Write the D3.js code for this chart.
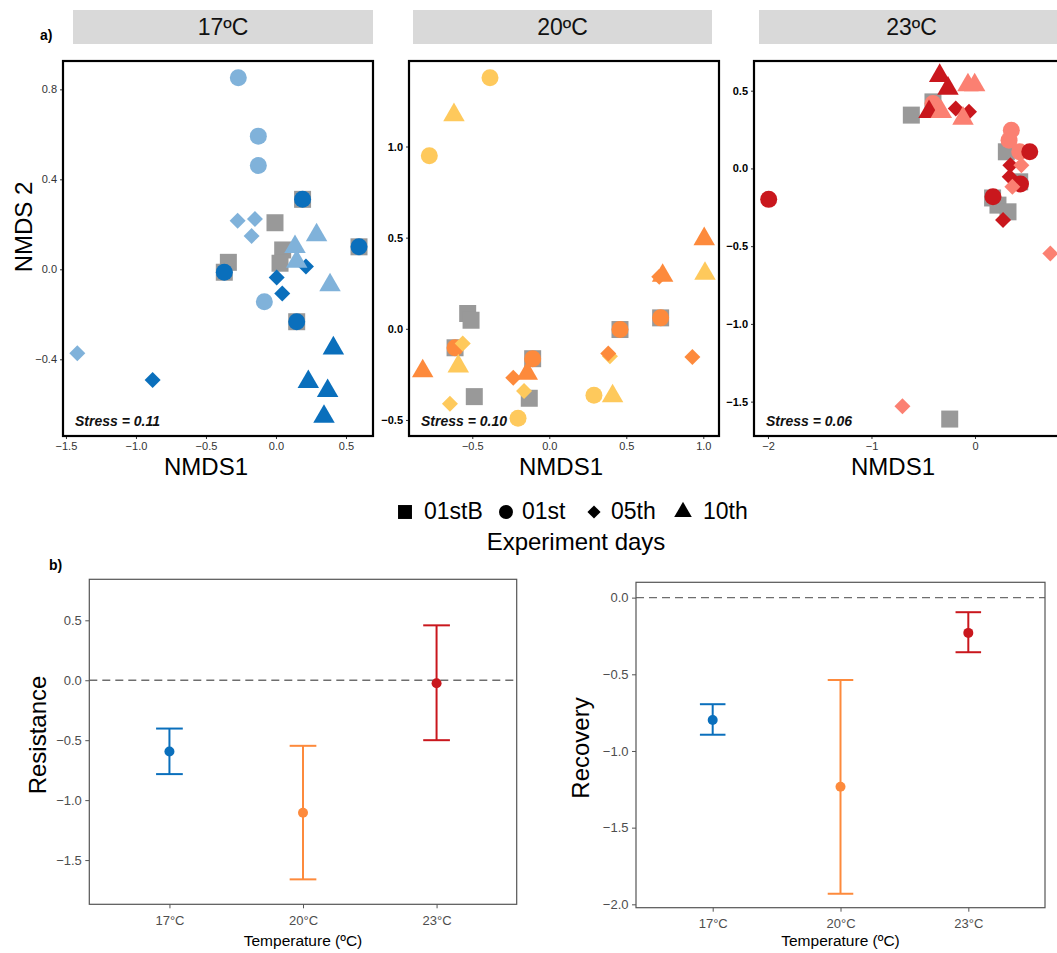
<!DOCTYPE html>
<html><head><meta charset="utf-8">
<script src="https://cdn.jsdelivr.net/npm/d3@7"></script>
<style>
body{margin:0;background:#fff}
svg{display:block}
text{font-family:"Liberation Sans",Arial,Helvetica,sans-serif}
</style>
</head><body>
<svg id="c" width="1057" height="953"></svg>
<script>
// ---------- data ----------
const temperatures = ["17ºC", "20ºC", "23ºC"];
const tempLabels = ["17°C", "20°C", "23°C"];
const days = ["01stB", "01st", "05th", "10th"];
const stressLabels = ["Stress = 0.11", "Stress = 0.10", "Stress = 0.06"];

// NMDS points: [NMDS1, NMDS2, day, group]; group B = baseline (grey), D = dark tone, L = light tone
const nmds17 = [
  [-0.007, 0.207, "01stB", "B"], [0.048, 0.086, "01stB", "B"], [0.029, 0.027, "01stB", "B"],
  [-0.340, 0.031, "01stB", "B"], [-0.369, -0.013, "01stB", "B"], [0.190, 0.311, "01stB", "B"],
  [0.593, 0.100, "01stB", "B"], [0.148, -0.233, "01stB", "B"],
  [-0.269, 0.852, "01st", "L"], [-0.126, 0.592, "01st", "L"], [-0.126, 0.461, "01st", "L"], [-0.083, -0.144, "01st", "L"],
  [-0.274, 0.216, "05th", "L"], [-0.150, 0.224, "05th", "L"], [-0.174, 0.148, "05th", "L"], [-1.419, -0.373, "05th", "L"],
  [0.214, 0.012, "05th", "D"],
  [0.290, 0.152, "10th", "L"], [0.136, 0.100, "10th", "L"], [0.148, 0.034, "10th", "L"], [0.386, -0.070, "10th", "L"],
  [0.190, 0.311, "01st", "D"], [0.593, 0.100, "01st", "D"], [-0.369, -0.013, "01st", "D"], [0.148, -0.233, "01st", "D"],
  [0.005, -0.036, "05th", "D"], [0.045, -0.107, "05th", "D"], [-0.881, -0.492, "05th", "D"],
  [0.410, -0.351, "10th", "D"], [0.231, -0.500, "10th", "D"], [0.369, -0.540, "10th", "D"], [0.343, -0.655, "10th", "D"]
];
const nmds20 = [
  [-0.530, 0.084, "01stB", "B"], [-0.508, 0.047, "01stB", "B"], [0.459, -0.004, "01stB", "B"], [0.723, 0.060, "01stB", "B"],
  [-0.612, -0.104, "01stB", "B"], [-0.108, -0.164, "01stB", "B"], [-0.130, -0.381, "01stB", "B"], [-0.487, -0.372, "01stB", "B"],
  [0.459, -0.004, "01st", "D"], [0.723, 0.060, "01st", "D"], [-0.612, -0.104, "01st", "D"], [-0.108, -0.164, "01st", "D"],
  [-0.385, 1.377, "01st", "L"], [-0.779, 0.949, "01st", "L"], [-0.203, -0.491, "01st", "L"], [0.290, -0.365, "01st", "L"],
  [0.394, -0.150, "05th", "L"],
  [0.714, 0.285, "05th", "D"], [-0.234, -0.268, "05th", "D"], [0.383, -0.135, "05th", "D"], [0.929, -0.155, "05th", "D"],
  [-0.562, -0.080, "05th", "L"], [-0.164, -0.341, "05th", "L"], [-0.645, -0.411, "05th", "L"],
  [1.006, 0.493, "10th", "D"], [0.736, 0.292, "10th", "D"], [-0.822, -0.232, "10th", "D"], [-0.143, -0.245, "10th", "D"],
  [-0.619, 1.173, "10th", "L"], [1.011, 0.303, "10th", "L"], [-0.591, -0.205, "10th", "L"], [0.411, -0.369, "10th", "L"]
];
const nmds23 = [
  [-0.615, 0.343, "01stB", "B"], [-0.406, 0.428, "01stB", "B"], [0.303, 0.107, "01stB", "B"], [0.432, -0.086, "01stB", "B"],
  [0.170, -0.190, "01stB", "B"], [0.222, -0.236, "01stB", "B"], [0.319, -0.279, "01stB", "B"], [-0.244, -1.612, "01stB", "B"],
  [-0.406, 0.418, "01st", "L"], [0.351, 0.246, "01st", "L"], [0.329, 0.182, "01st", "L"], [0.432, 0.107, "01st", "L"],
  [-0.186, 0.386, "05th", "D"], [-0.058, 0.364, "05th", "D"],
  [-0.341, 0.596, "10th", "D"], [-0.261, 0.514, "10th", "D"], [-0.444, 0.364, "10th", "D"],
  [-0.068, 0.536, "10th", "L"], [-0.003, 0.536, "10th", "L"], [-0.325, 0.364, "10th", "L"], [-0.116, 0.321, "10th", "L"],
  [-1.993, -0.199, "01st", "D"], [0.529, 0.107, "01st", "D"], [0.440, -0.100, "01st", "D"], [0.174, -0.182, "01st", "D"],
  [0.342, 0.021, "05th", "D"], [0.335, -0.054, "05th", "D"], [0.271, -0.332, "05th", "D"],
  [0.448, 0.021, "05th", "L"], [0.361, -0.118, "05th", "L"], [-0.701, -1.529, "05th", "L"], [0.728, -0.547, "05th", "L"]
];

const nmdsXTicks = [[-1.5, -1.0, -0.5, 0.0, 0.5], [-0.5, 0.0, 0.5, 1.0], [-2, -1, 0]];
const nmdsYTicks = [[-0.4, 0.0, 0.4, 0.8], [-0.5, 0.0, 0.5, 1.0], [-1.5, -1.0, -0.5, 0.0, 0.5]];
const nmdsXDomains = [[-1.521, 0.693], [-0.911, 1.102], [-2.135, 0.860]];
const nmdsYDomains = [[-0.741, 0.926], [-0.588, 1.469], [-1.721, 0.691]];

const resistanceMean = [-0.594, -1.106, -0.025];
const resistanceLow = [-0.783, -1.661, -0.500];
const resistanceHigh = [-0.403, -0.547, 0.458];
const recoveryMean = [-0.798, -1.233, -0.230];
const recoveryLow = [-0.894, -1.931, -0.356];
const recoveryHigh = [-0.695, -0.537, -0.095];
const resistanceTicks = [-1.5, -1.0, -0.5, 0.0, 0.5];
const recoveryTicks = [-2.0, -1.5, -1.0, -0.5, 0.0];

// ---------- styles ----------
const palettes = [
  {B: "#999999", D: "#0a6fbc", L: "#80b2da"},
  {B: "#999999", D: "#fd8a3c", L: "#fec95c"},
  {B: "#999999", D: "#c9171d", L: "#fb8072"}
];
const effectColors = ["#0a6fbc", "#fd8a3c", "#c9171d"];
const FONT = '"Liberation Sans",Arial,Helvetica,sans-serif';

const svg = d3.select("#c");

function shapePath(day, scale) {
  const s = scale || 1;
  if (day === "01stB") return d3.symbol(d3.symbolSquare, 289 * s * s)();
  if (day === "01st") return d3.symbol(d3.symbolCircle, 227 * s * s)();
  if (day === "05th") return d3.symbol(d3.symbolSquare, 128 * s * s)();
  return d3.symbol(d3.symbolTriangle, 200 * s * s)();
}
function shapeTransform(day, x, y) {
  return day === "05th" ? `translate(${x},${y}) rotate(45)` : `translate(${x},${y})`;
}

// ---------- panel a ----------
svg.append("text").attr("x", 40).attr("y", 40).attr("font-size", 14).attr("font-weight", "bold").text("a)");

const boxes = [
  {x0: 63, x1: 373, sx0: 73, tx: 206},
  {x0: 409, x1: 719, sx0: 413, sx1: 712, tx: 561},
  {x0: 754, x1: 1064, sx0: 759, tx: 893}
];
const datasets = [nmds17, nmds20, nmds23];
const boxY0 = 61, boxY1 = 436;

boxes.forEach((b, i) => {
  const x = d3.scaleLinear().domain(nmdsXDomains[i]).range([b.x0, b.x1]);
  const y = d3.scaleLinear().domain(nmdsYDomains[i]).range([boxY1, boxY0]);
  const g = svg.append("g");

  // strip
  const sx1 = b.sx1 || b.x1;
  g.append("rect").attr("x", b.sx0).attr("y", 10).attr("width", sx1 - b.sx0).attr("height", 34).attr("fill", "#d9d9d9");
  g.append("text").attr("x", (b.sx0 + sx1) / 2).attr("y", 35).attr("text-anchor", "middle")
    .attr("font-size", 23).attr("fill", "#111").text(temperatures[i]);

  // points
  const clipId = "clip" + i;
  svg.append("clipPath").attr("id", clipId).append("rect")
    .attr("x", b.x0).attr("y", boxY0).attr("width", b.x1 - b.x0).attr("height", boxY1 - boxY0);
  g.append("g").attr("clip-path", `url(#${clipId})`)
    .selectAll("path").data(datasets[i]).join("path")
    .attr("d", d => shapePath(d[2]))
    .attr("transform", d => shapeTransform(d[2], x(d[0]), y(d[1])))
    .attr("fill", d => palettes[i][d[3]]);

  // axes
  const fmtX = i === 2 ? d3.format("d") : d3.format(".1f");
  const ax = g.append("g").attr("transform", `translate(0,${boxY1})`)
    .call(d3.axisBottom(x).tickValues(nmdsXTicks[i]).tickFormat(fmtX).tickSize(3).tickPadding(3));
  const ay = g.append("g").attr("transform", `translate(${b.x0},0)`)
    .call(d3.axisLeft(y).tickValues(nmdsYTicks[i]).tickFormat(d3.format(".1f")).tickSize(3).tickPadding(3));
  [ax, ay].forEach(a => {
    a.select(".domain").remove();
    a.selectAll("line").attr("stroke", "#333");
    a.selectAll("text").attr("font-size", 11).attr("fill", "#333").attr("font-family", FONT);
  });
  if (i > 0) ay.selectAll("text").attr("font-weight", "bold").attr("fill", "#000");

  // frame
  g.append("rect").attr("x", b.x0).attr("y", boxY0).attr("width", b.x1 - b.x0).attr("height", boxY1 - boxY0)
    .attr("fill", "none").attr("stroke", "#000").attr("stroke-width", 2.2);

  // stress
  g.append("text").attr("x", b.x0 + 12).attr("y", boxY1 - 10).attr("font-size", 14)
    .attr("font-weight", "bold").attr("font-style", "italic").attr("fill", "#111").text(stressLabels[i]);

  // axis title
  g.append("text").attr("x", b.tx).attr("y", 475).attr("text-anchor", "middle")
    .attr("font-size", 24).attr("fill", "#000").text("NMDS1");
});

svg.append("text").attr("transform", "translate(32,227) rotate(-90)").attr("text-anchor", "middle")
  .attr("font-size", 24).attr("fill", "#000").text("NMDS 2");

// legend
const legendMarkerX = [405, 506, 594, 683];
const legendTextX = [424, 522, 611, 703];
const leg = svg.append("g");
days.forEach((d, k) => {
  leg.append("path").attr("d", shapePath(d, 0.82)).attr("transform", shapeTransform(d, legendMarkerX[k], 512)).attr("fill", "#000");
  leg.append("text").attr("x", legendTextX[k]).attr("y", 519).attr("font-size", 23).attr("fill", "#000").text(d);
});
svg.append("text").attr("x", 576).attr("y", 550).attr("text-anchor", "middle").attr("font-size", 24)
  .attr("fill", "#000").text("Experiment days");

// ---------- panel b ----------
svg.append("text").attr("x", 49).attr("y", 570).attr("font-size", 14).attr("font-weight", "bold").text("b)");

const effectPanels = [
  {x0: 89.3, x1: 516.7, y0: 579.3, y1: 904.3, dom: [-1.869, 0.842], ticks: resistanceTicks,
   mean: resistanceMean, low: resistanceLow, high: resistanceHigh, title: "Resistance", tx: 38, ty: 735},
  {x0: 636, x1: 1045, y0: 582.3, y1: 907.7, dom: [-2.022, 0.100], ticks: recoveryTicks,
   mean: recoveryMean, low: recoveryLow, high: recoveryHigh, title: "Recovery", tx: 581, ty: 748}
];

effectPanels.forEach(p => {
  const x = d3.scalePoint().domain(tempLabels).range([p.x0, p.x1]).padding(0.6);
  const y = d3.scaleLinear().domain(p.dom).range([p.y1, p.y0]);
  const g = svg.append("g");

  const ax = g.append("g").attr("transform", `translate(0,${p.y1})`)
    .call(d3.axisBottom(x).tickSize(4).tickPadding(7));
  const ay = g.append("g").attr("transform", `translate(${p.x0},0)`)
    .call(d3.axisLeft(y).tickValues(p.ticks).tickFormat(d3.format(".1f")).tickSize(4).tickPadding(3.5));
  [ax, ay].forEach(a => {
    a.select(".domain").remove();
    a.selectAll("line").attr("stroke", "#555");
    a.selectAll("text").attr("font-size", 13).attr("fill", "#4d4d4d").attr("font-family", FONT);
  });

  g.append("line").attr("x1", p.x0).attr("x2", p.x1).attr("y1", y(0)).attr("y2", y(0))
    .attr("stroke", "#6e6e6e").attr("stroke-width", 1.3).attr("stroke-dasharray", "8,5");

  const hw = x.step() * 0.1;
  tempLabels.forEach((t, k) => {
    const cx = x(t), col = effectColors[k];
    g.append("line").attr("x1", cx).attr("x2", cx).attr("y1", y(p.low[k])).attr("y2", y(p.high[k]))
      .attr("stroke", col).attr("stroke-width", 2);
    [p.low[k], p.high[k]].forEach(v => {
      g.append("line").attr("x1", cx - hw).attr("x2", cx + hw).attr("y1", y(v)).attr("y2", y(v))
        .attr("stroke", col).attr("stroke-width", 2);
    });
    g.append("circle").attr("cx", cx).attr("cy", y(p.mean[k])).attr("r", 5).attr("fill", col);
  });

  g.append("rect").attr("x", p.x0).attr("y", p.y0).attr("width", p.x1 - p.x0).attr("height", p.y1 - p.y0)
    .attr("fill", "none").attr("stroke", "#555").attr("stroke-width", 1.2);

  g.append("text").attr("x", (p.x0 + p.x1) / 2).attr("y", 946).attr("text-anchor", "middle")
    .attr("font-size", 15.5).attr("fill", "#000").text("Temperature (ºC)");
  g.append("text").attr("transform", `translate(${p.tx + 8},${p.ty}) rotate(-90)`).attr("text-anchor", "middle")
    .attr("font-size", 24).attr("fill", "#000").text(p.title);
});
</script>
</body></html>
